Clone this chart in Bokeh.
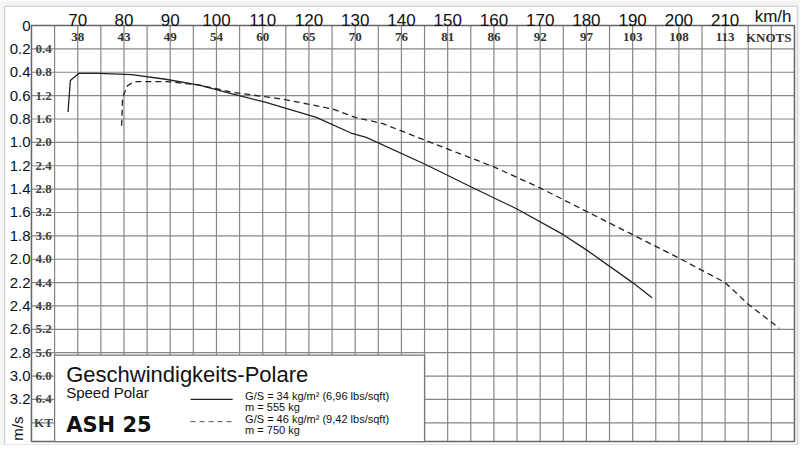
from bokeh.plotting import figure
from bokeh.models import Range1d, Label
from bokeh.embed import file_html
from bokeh.resources import INLINE

# Data (km/h, sink m/s)
solid_kmh = [67.9, 68.4, 70.2, 74.5, 81.7, 89.0, 96.3, 103.4, 110.7, 121.6, 129.1, 132.4, 145.0, 155.0, 165.0, 175.0, 180.0, 190.0, 194.2]
solid_sink = [0.74, 0.47, 0.41, 0.41, 0.42, 0.46, 0.51, 0.585, 0.657, 0.786, 0.92, 0.957, 1.185, 1.38, 1.57, 1.79, 1.92, 2.20, 2.33]
dash_kmh = [79.5, 79.7, 80.8, 82.2, 89.4, 96.3, 103.4, 114.3, 125.1, 130.0, 136.0, 145.0, 160.0, 170.0, 180.0, 190.0, 200.0, 210.0, 215.0, 221.7]
dash_sink = [0.857, 0.614, 0.514, 0.48, 0.48, 0.51, 0.571, 0.63, 0.714, 0.786, 0.84, 0.98, 1.21, 1.39, 1.59, 1.79, 1.99, 2.20, 2.385, 2.59]

kmh_ticks = [70, 80, 90, 100, 110, 120, 130, 140, 150, 160, 170, 180, 190, 200, 210]
knot_labels = ["38", "43", "49", "54", "60", "65", "70", "76", "81", "86", "92", "97", "103", "108", "113"]
ms_ticks = [0.0, 0.2, 0.4, 0.6, 0.8, 1.0, 1.2, 1.4, 1.6, 1.8, 2.0, 2.2, 2.4, 2.6, 2.8, 3.0, 3.2]
ms_labels = ["0", "0.2", "0.4", "0.6", "0.8", "1.0", "1.2", "1.4", "1.6", "1.8", "2.0", "2.2", "2.4", "2.6", "2.8", "3.0", "3.2"]
kt_labels = ["", "0.4", "0.8", "1.2", "1.6", "2.0", "2.4", "2.8", "3.2", "3.6", "4.0", "4.4", "4.8", "5.2", "5.6", "6.0", "6.4"]
grid_x = [60 + 5 * i for i in range(34)]
grid_y = [round(0.2 * i, 1) for i in range(18)]

X0, X1, Y0, Y1 = 60, 225, 0.0, 3.56

p = figure(width=800, height=445, output_backend="svg", toolbar_location=None,
           x_range=Range1d(53.30, 226.3), y_range=Range1d(3.594, -0.214),
           min_border=0, x_axis_location=None, y_axis_location=None)
p.outline_line_color = None
p.xgrid.visible = False
p.ygrid.visible = False
p.background_fill_color = "#f3f4f6"
p.border_fill_color = "#f3f4f6"

# white panel
p.quad(left=[54.2], right=[225.6], top=[-0.165], bottom=[3.59], fill_color="white",
       line_color="#c8c8c8", line_width=1)

# grid
p.segment(x0=grid_x, y0=[Y0] * len(grid_x), x1=grid_x, y1=[Y1] * len(grid_x),
          line_color="#8a8680", line_width=1.2)
p.segment(x0=[X0] * len(grid_y), y0=grid_y, x1=[X1] * len(grid_y), y1=grid_y,
          line_color="#8a8680", line_width=1.2)
p.quad(left=[X0], right=[X1], top=[Y0], bottom=[Y1], fill_color=None,
       line_color="#666666", line_width=1.4)

p.line(solid_kmh, solid_sink, line_color="#222222", line_width=1.3)
p.line(dash_kmh, dash_sink, line_color="#222222", line_width=1.3, line_dash="6 4")

sans = "Liberation Sans"
serif = "Liberation Serif"
for k, t in zip(kmh_ticks, knot_labels):
    p.add_layout(Label(x=k, y=0, text=str(k), text_align="center", text_baseline="bottom",
                       y_offset=0, text_font=sans, text_font_size="17px", text_color="#111111"))
    p.add_layout(Label(x=k, y=0.1, text=t, text_align="center", text_baseline="middle",
                       text_font=serif, text_font_style="bold", text_font_size="13px", text_color="#333333"))
p.add_layout(Label(x=225, y=0, text="km/h", text_align="right", text_baseline="bottom", x_offset=-3,
                   text_font=sans, text_font_size="17px", text_color="#111111"))
p.add_layout(Label(x=225, y=0.1, text="KNOTS", text_align="right", text_baseline="middle", x_offset=-3,
                   text_font=serif, text_font_style="bold", text_font_size="13px", text_color="#333333"))
for v, a, b in zip(ms_ticks, ms_labels, kt_labels):
    p.add_layout(Label(x=60, y=v, text=a, text_align="right", text_baseline="middle", x_offset=-1,
                       text_font=sans, text_font_size="15px", text_color="#111111"))
    if b:
        p.add_layout(Label(x=62.6, y=v, text=b, text_align="center", text_baseline="middle",
                           text_font=serif, text_font_style="bold", text_font_size="13px", text_color="#444444"))
p.add_layout(Label(x=62.6, y=3.4, text="KT", text_align="center", text_baseline="middle",
                   text_font=serif, text_font_style="bold", text_font_size="13px", text_color="#444444"))
p.add_layout(Label(x=60, y=3.45, text="m/s", text_align="center", text_baseline="middle", x_offset=-14,
                   angle=1.5708, text_font=sans, text_font_size="15px", text_color="#111111"))

# legend box
p.quad(left=[65], right=[145], top=[2.82], bottom=[Y1], fill_color="white",
       line_color="#777777", line_width=1.2)
p.add_layout(Label(x=67.5, y=2.99, text="Geschwindigkeits-Polare", text_baseline="middle",
                   text_font=sans, text_font_size="22px", text_color="#111111"))
p.add_layout(Label(x=67.5, y=3.14, text="Speed Polar", text_baseline="middle",
                   text_font=sans, text_font_size="15px", text_color="#111111"))
p.add_layout(Label(x=67.5, y=3.42, text="ASH 25", text_baseline="middle",
                   text_font="DejaVu Sans", text_font_style="bold", text_font_size="21px", text_color="#111111"))
p.segment(x0=[94.4], y0=[3.20], x1=[103.5], y1=[3.20], line_color="#222222", line_width=1.2)
p.segment(x0=[94.4], y0=[3.39], x1=[103.5], y1=[3.39], line_color="#555555", line_width=1.0, line_dash="5 4")
for y, t in [(3.17, "G/S = 34 kg/m² (6,96 lbs/sqft)"), (3.265, "m = 555 kg"),
             (3.37, "G/S = 46 kg/m² (9,42 lbs/sqft)"), (3.465, "m = 750 kg")]:
    p.add_layout(Label(x=106.2, y=y, text=t, text_baseline="middle",
                       text_font=sans, text_font_size="11px", text_color="#111111"))

open("out.html", "w").write(file_html(p, INLINE))
